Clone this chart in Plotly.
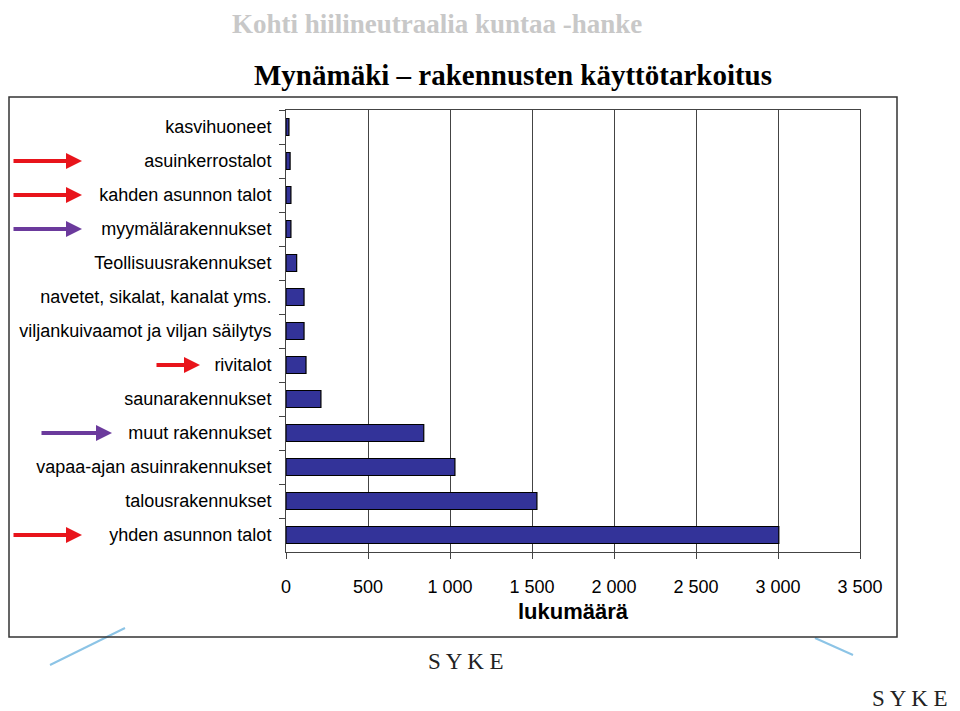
import plotly.graph_objects as go

categories = [
    "kasvihuoneet", "asuinkerrostalot", "kahden asunnon talot", "myymälärakennukset",
    "Teollisuusrakennukset", "navetet, sikalat, kanalat yms.",
    "viljankuivaamot ja viljan säilytys", "rivitalot", "saunarakennukset",
    "muut rakennukset", "vapaa-ajan asuinrakennukset", "talousrakennukset",
    "yhden asunnon talot",
]
values = [18, 25, 30, 30, 65, 110, 110, 122, 213, 840, 1030, 1530, 3005]
tick_vals = [0, 500, 1000, 1500, 2000, 2500, 3000, 3500]
tick_text = ["0", "500", "1 000", "1 500", "2 000", "2 500", "3 000", "3 500"]

# arrows: (category, colour, tail px, head px)
arrows = [
    ("asuinkerrostalot", "#e8141b", 12, 82),
    ("kahden asunnon talot", "#e8141b", 12, 82),
    ("myymälärakennukset", "#6b3a9c", 12, 82),
    ("rivitalot", "#e8141b", 155, 200),
    ("muut rakennukset", "#6b3a9c", 40, 112),
    ("yhden asunnon talot", "#e8141b", 12, 82),
]

L, R, T, B = 286, 860, 110, 552
W, H = R - L, B - T
OFF = 8  # page body margin
px = lambda p: (p - L) / W
py = lambda p: (B - p) / H


def label(text, x, y, size, color, family="Liberation Serif"):
    fig.add_annotation(text=text, xref="paper", yref="paper", x=px(x), y=py(y),
                       xanchor="center", yanchor="middle", showarrow=False,
                       font=dict(family=family, size=size, color=color))


fig = go.Figure(go.Bar(
    y=categories, x=values, orientation="h", width=0.5,
    marker=dict(color="#333399", line=dict(color="black", width=1.2)),
))

# background decorations
label("<b>Kohti hiilineutraalia kuntaa -hanke</b>", 437, 24, 27, "#c8c8c8")
fig.add_shape(type="line", xref="paper", yref="paper", x0=px(50), y0=py(665),
              x1=px(125), y1=py(628), line=dict(color="#8cc4e6", width=2), layer="below")
fig.add_shape(type="line", xref="paper", yref="paper", x0=px(815), y0=py(638),
              x1=px(853), y1=py(655), line=dict(color="#8cc4e6", width=2), layer="below")
label("S Y K E", 466, 661, 23, "#222")
label("S Y K E", 910, 698, 23, "#222")

# outer frame
fig.add_shape(type="rect", xref="paper", yref="paper", x0=px(9), x1=px(897),
              y0=py(637), y1=py(97), line=dict(color="#333", width=1.5))

label("<b>Mynämäki – rakennusten käyttötarkoitus</b>", 513, 75, 29, "black")

for cat, col, tail, head in arrows:
    fig.add_annotation(x=px(head), y=cat, xref="paper", yref="y", ax=tail - head, ay=0,
                       text="", showarrow=True, arrowhead=2,
                       arrowsize=0.8, arrowwidth=4, arrowcolor=col)

fig.update_layout(
    width=960, height=711,
    margin=dict(l=L - OFF, r=960 - R + OFF, t=T - OFF, b=711 - B + OFF),
    plot_bgcolor="white", paper_bgcolor="white", showlegend=False,
    font=dict(family="Liberation Sans", size=18, color="black"),
    xaxis=dict(range=[0, 3500], tickvals=tick_vals, ticktext=tick_text, automargin=False,
               showgrid=True, gridcolor="#444", gridwidth=1.3, zeroline=False,
               ticks="outside", ticklen=6, tickcolor="#444", ticklabelstandoff=12,
               showline=True, linecolor="#444", mirror=True,
               title=dict(text="<b>lukumäärä</b>", standoff=8)),
    yaxis=dict(categoryorder="array", categoryarray=categories, autorange="reversed",
               tickson="boundaries", ticks="outside", ticklen=6, tickcolor="#444",
               showline=True, linecolor="#444", mirror=True, showgrid=False,
               ticklabelstandoff=10, automargin=False),
)

fig.write_html("out.html")
